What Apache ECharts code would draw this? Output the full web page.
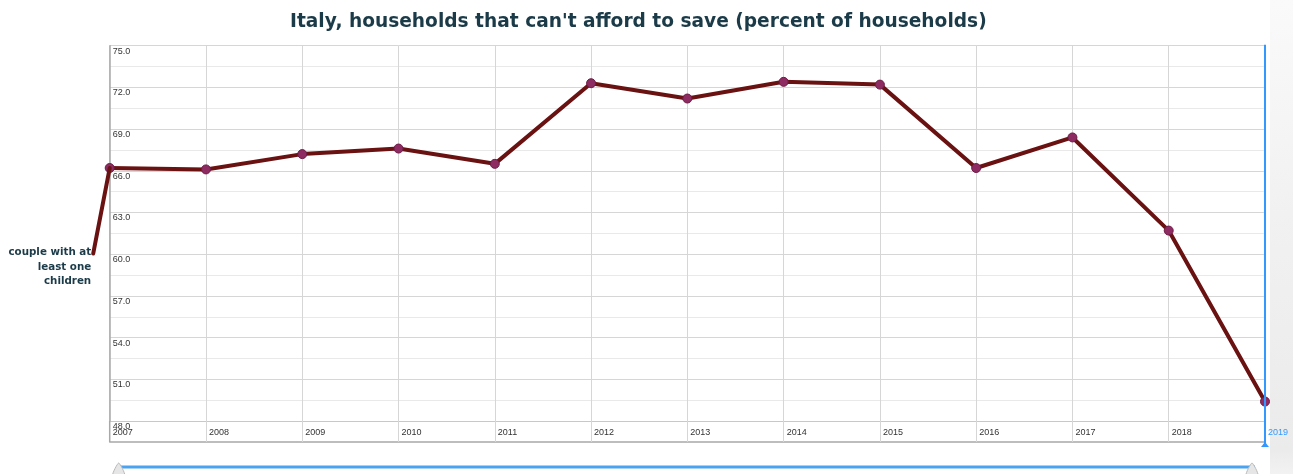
<!DOCTYPE html>
<html>
<head>
<meta charset="utf-8">
<title>Italy, households that can't afford to save</title>
<script src="https://cdn.jsdelivr.net/npm/echarts@6/dist/echarts.min.js"></script>
<style>
  html, body { margin: 0; padding: 0; background: #ffffff; }
  #chart { width: 1293px; height: 474px; }
</style>
</head>
<body>
<div id="chart"></div>
<script>
// Share of households that cannot afford to save, by year
const years = ['2007', '2008', '2009', '2010', '2011', '2012', '2013',
               '2014', '2015', '2016', '2017', '2018', '2019'];
const coupleWithChildren = [66.2, 66.1, 67.2, 67.6, 66.5, 72.3, 71.2,
                            72.4, 72.2, 66.2, 68.4, 61.7, 49.4];
const seriesName = 'couple with at\nleast one\nchildren';
const yMin = 48, yMax = 75, yStep = 3;
const selectedYear = '2019';

const chart = echarts.init(document.getElementById('chart'), null, { renderer: 'canvas' });

const gridColor = '#d6d6d6';
const minorColor = '#e9e9e9';
const textDark = '#1b3b49';
const accent = '#3399ff';

chart.setOption({
  animation: false,
  backgroundColor: '#ffffff',
  title: {
    text: "Italy, households that can't afford to save (percent of households)",
    left: 285,
    top: 8,
    textStyle: {
      fontFamily: 'DejaVu Sans',
      fontWeight: 'bold',
      fontSize: 18.6,
      color: textDark
    }
  },
  grid: { left: 109.7, top: 45.7, right: 28, bottom: 53, containLabel: false },
  xAxis: [{
    type: 'category',
    data: years,
    boundaryGap: false,
    axisLine: { show: true, lineStyle: { color: '#c8c8c8', width: 1 } },
    axisTick: { show: true, inside: false, length: 21, lineStyle: { color: gridColor } },
    splitLine: { show: true, lineStyle: { color: gridColor, width: 1 } },
    axisLabel: {
      show: true,
      margin: 7,
      align: 'left',
      padding: [0, 0, 0, 3],
      fontFamily: 'Liberation Sans',
      fontSize: 9,
      color: (val) => val === selectedYear ? accent : '#333333'
    }
  }, {
    // bottom edge of the frame, below the year labels
    type: 'category',
    data: years,
    boundaryGap: false,
    position: 'bottom',
    offset: 21,
    axisLine: { show: true, lineStyle: { color: '#a8a8a8', width: 1.5 } },
    axisTick: { show: false },
    axisLabel: { show: false },
    splitLine: { show: false }
  }],
  yAxis: {
    type: 'value',
    min: yMin,
    max: yMax,
    interval: yStep,
    axisLine: { show: true, lineStyle: { color: '#a8a8a8', width: 1.5 } },
    axisTick: { show: false },
    splitLine: { show: true, lineStyle: { color: gridColor, width: 1 } },
    minorTick: { show: false, splitNumber: 2 },
    minorSplitLine: { show: true, lineStyle: { color: minorColor, width: 1 } },
    axisLabel: {
      inside: true,
      margin: 3,
      align: 'left',
      verticalAlign: 'top',
      padding: [1, 0, 0, 0],
      fontFamily: 'Liberation Sans',
      fontSize: 9,
      color: '#333333',
      formatter: (v) => v.toFixed(1)
    }
  },
  series: [{
    name: seriesName,
    type: 'line',
    data: coupleWithChildren,
    symbol: 'circle',
    symbolSize: 9,
    showAllSymbol: true,
    clip: false,
    lineStyle: { color: '#6a1111', width: 4 },
    itemStyle: { color: '#8d2b62', borderColor: '#6d1c45', borderWidth: 1 },
    z: 5
  }]
});

// Decorations positioned from the chart's own scales
function decorate() {
  const first = chart.convertToPixel({ xAxisIndex: 0, yAxisIndex: 0 }, [years[0], coupleWithChildren[0]]);
  const top = chart.convertToPixel({ yAxisIndex: 0 }, yMax);
  const bottom = chart.convertToPixel({ yAxisIndex: 0 }, yMin);
  const frameBottom = bottom + 21;
  const xSel = chart.convertToPixel({ xAxisIndex: 0 }, selectedYear);
  const xLeft = chart.convertToPixel({ xAxisIndex: 0 }, years[0]);

  const labelEnd = [first[0] - 16.5, first[1] + 85.5];
  const sliderY = frameBottom + 25;

  chart.setOption({
    graphic: [
      // scroll strip at the right edge of the page
      {
        type: 'rect', z: -10, silent: true,
        shape: { x: 1270, y: 0, width: 23, height: 474 },
        style: {
          fill: new echarts.graphic.LinearGradient(0, 0, 0, 1, [
            { offset: 0, color: '#fafafa' },
            { offset: 0.2, color: '#f6f6f6' },
            { offset: 0.45, color: '#f1f1f1' },
            { offset: 0.95, color: '#ebebeb' },
            { offset: 1, color: '#f2f2f2' }
          ])
        }
      },
      // left frame edge continuing under the plot
      {
        type: 'line', z: 3, silent: true,
        shape: { x1: xLeft, y1: bottom, x2: xLeft, y2: frameBottom },
        style: { stroke: '#a8a8a8', lineWidth: 1.5 }
      },
      // selected year marker
      {
        type: 'line', z: 20, silent: true,
        shape: { x1: xSel, y1: top - 1, x2: xSel, y2: frameBottom + 4 },
        style: { stroke: accent, lineWidth: 2 }
      },
      {
        type: 'polygon', z: 20, silent: true,
        shape: { points: [[xSel - 4, frameBottom + 5], [xSel, frameBottom], [xSel + 4, frameBottom + 5]] },
        style: { fill: accent }
      },
      // series name with leader line to its first point
      {
        type: 'line', z: 6, silent: true,
        shape: { x1: first[0], y1: first[1], x2: labelEnd[0], y2: labelEnd[1] },
        style: { stroke: '#6a1111', lineWidth: 4, lineCap: 'round' }
      },
      {
        type: 'text', z: 6, silent: true,
        x: labelEnd[0] - 2, y: labelEnd[1] - 8,
        style: {
          text: seriesName,
          align: 'right',
          verticalAlign: 'top',
          fontFamily: 'DejaVu Sans',
          fontWeight: 'bold',
          fontSize: 10.3,
          lineHeight: 14.5,
          fill: textDark
        }
      },
      // time slider under the chart
      {
        type: 'line', z: 4, silent: true,
        shape: { x1: xLeft + 10, y1: sliderY, x2: xSel - 10, y2: sliderY },
        style: { stroke: '#4aa3f0', lineWidth: 3 }
      },
      {
        type: 'polygon', z: 5, silent: true,
        shape: { points: [[xLeft + 3, sliderY + 8], [xLeft + 9, sliderY - 4], [xLeft + 15, sliderY + 8]], smooth: 0.2 },
        style: { fill: '#e6e6e6', stroke: '#b9b9b9', lineWidth: 1 }
      },
      {
        type: 'polygon', z: 5, silent: true,
        shape: { points: [[xSel - 19, sliderY + 8], [xSel - 13, sliderY - 4], [xSel - 7, sliderY + 8]], smooth: 0.2 },
        style: { fill: '#e6e6e6', stroke: '#b9b9b9', lineWidth: 1 }
      }
    ]
  });
}
decorate();
</script>
</body>
</html>
